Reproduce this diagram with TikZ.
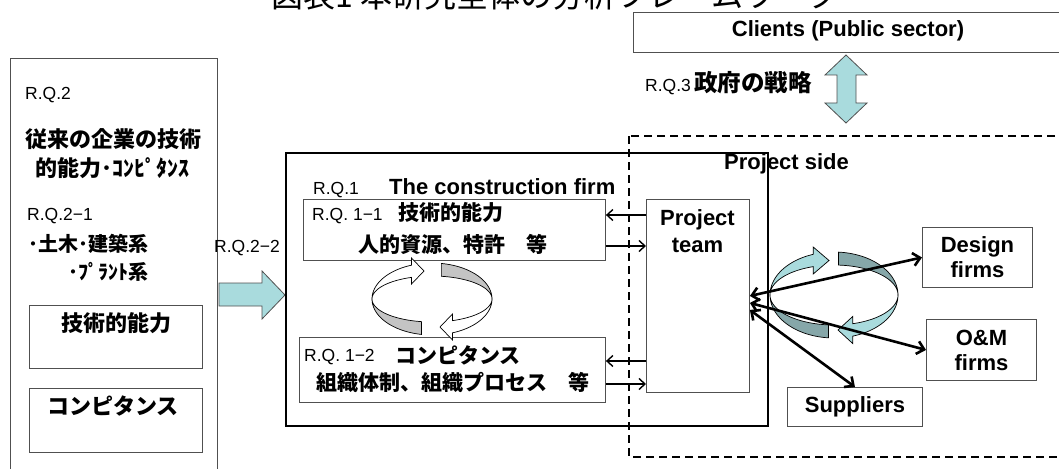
\documentclass[tikz,border=0pt]{standalone}
\usepackage{fontspec}
\setmainfont{Liberation Sans}
\newfontfamily\jp{Noto Sans CJK JP}
\usetikzlibrary{arrows.meta}
\definecolor{cyanf}{HTML}{A9DBDD}
\definecolor{tealf}{HTML}{86A7A9}
\definecolor{grayf}{HTML}{C4C4C4}
\definecolor{boxline}{HTML}{505050}
\newcommand\fsz[1]{\fontsize{#1}{#1}\selectfont}
\tikzset{
  box/.style={draw=boxline, line width=0.9pt, fill=white, inner sep=0pt, anchor=north west},
  lbl/.style={inner sep=0pt, anchor=base west, font=\fsz{17.5}},
  jpb/.style={inner sep=0pt, font=\jp\bfseries\fsz{#1}},
  enb/.style={inner sep=0pt, anchor=base, font=\bfseries\fsz{22}},
  band/.style={draw=black, line width=0.7pt},
  sarrow/.style={line width=1.4pt, -{Straight Barb[length=6pt,width=11pt]}},
  barrow/.style={line width=2.6pt, {Straight Barb[length=7pt,width=13pt]}-{Straight Barb[length=7pt,width=13pt]}},
  blockarrow/.style={fill=cyanf, draw=boxline, line width=0.8pt},
}
\begin{document}
\begin{tikzpicture}[x=1pt,y=-1pt]
\useasboundingbox (0,0) rectangle (1059,468);
\clip (0,0) rectangle (1059,468);

% title (cut at top)
\node[inner sep=0pt, anchor=base west, font=\jp\fsz{32}] (title) at (271,8) {図表1 本研究全体の分析フレームワーク};

% left box
\node[box, minimum width=207pt, minimum height=430pt] (left) at (10,58) {};
\node[lbl] (rq2) at (25,100) {R.Q.2};
\node[jpb=22] (trad1) at (113.5,139) {従来の企業の技術};
\node[jpb=22] (trad2) at (112.5,168.5) {的能力･ｺﾝﾋﾟﾀﾝｽ};
\node[lbl] (rq21) at (27,220) {R.Q.2−1};
\node[jpb=20, anchor=east] (civ) at (149,243.5) {･土木･建築系};
\node[jpb=20, anchor=east] (plant) at (149,271.5) {･ﾌﾟﾗﾝﾄ系};
\node[box, minimum width=173pt, minimum height=63pt] (lbox1) at (29,305) {};
\node[jpb=22] (lt1) at (116,323) {技術的能力};
\node[box, minimum width=173pt, minimum height=64pt] (lbox2) at (29,388) {};
\node[jpb=22] (lt2) at (113,406.5) {コンピタンス};

% R.Q.2-2 arrow
\node[lbl] (rq22) at (214,252) {R.Q.2−2};
\draw[blockarrow] (219,283) -- (262,283) -- (262,271) -- (285,295) -- (262,319) -- (262,306) -- (219,306) -- cycle;

% construction firm
\node[draw=black, line width=2.4pt, inner sep=0pt, anchor=north west, minimum width=482pt, minimum height=273pt] (firm) at (285,152) {};
\node[lbl] (rq1) at (313,194) {R.Q.1};
\node[enb, anchor=base west] (firmt) at (389,194) {The construction firm};

\node[box, minimum width=302pt, minimum height=61pt] (box1) at (303,199) {};
\node[lbl] (rq11) at (312,220) {R.Q. 1−1};
\node[jpb=21, anchor=west] (b1a) at (398,213) {技術的能力};
\node[jpb=21] (b1b) at (453,244.5) {人的資源、特許　等};

\node[box, minimum width=306pt, minimum height=65pt] (box2) at (299,337) {};
\node[lbl] (rq12) at (304,361) {R.Q. 1−2};
\node[jpb=21, anchor=west] (b2a) at (395,355.5) {コンピタンス};
\node[jpb=21] (b2b) at (452.5,382) {組織体制、組織プロセス　等};

% left cycle (grey backs first)
\draw[band, fill=grayf] plot[domain=81:0, samples=30] ({432+60*cos(\x)},{299-36*sin(\x)}) -- plot[domain=0:81, samples=30] ({432+60*cos(\x)},{299-23*sin(\x)}) -- cycle;
\draw[band, fill=grayf] plot[domain=180:260, samples=30] ({432+60*cos(\x)},{299-36*sin(\x)}) -- plot[domain=260:180, samples=30] ({432+60*cos(\x)},{299-23*sin(\x)}) -- cycle;
\draw[band, fill=white] plot[domain=180:110, samples=30] ({432+60*cos(\x)},{299-36*sin(\x)}) -- (411.5,258) -- (424,271) -- (411.5,284) -- plot[domain=110:180, samples=30] ({432+60*cos(\x)},{299-23*sin(\x)}) -- cycle;
\draw[band, fill=white] plot[domain=360:290, samples=30] ({432+60*cos(\x)},{299-36*sin(\x)}) -- (452.5,340) -- (440,327) -- (452.5,314) -- plot[domain=290:360, samples=30] ({432+60*cos(\x)},{299-23*sin(\x)}) -- cycle;

% project team
\node[box, minimum width=103pt, minimum height=193pt] (team) at (646,199) {};
\node[enb] (tm1) at (697.5,225) {Project};
\node[enb] (tm2) at (697.5,252) {team};

% small arrows
\draw[sarrow] (team.west |- 0,215) -- (box1.east |- 0,215);
\draw[sarrow] (box1.east |- 0,246) -- (team.west |- 0,246);
\draw[sarrow] (team.west |- 0,361) -- (box2.east |- 0,361);
\draw[sarrow] (box2.east |- 0,384) -- (team.west |- 0,384);

% project side dashed
\draw[line width=2pt, dash pattern=on 8pt off 5pt] (629,136) rectangle (1080,457);
\node[enb, anchor=base west] (pside) at (724,169) {Project side};

% clients
\node[box, minimum width=430pt, minimum height=40pt] (clients) at (633,12) {};
\node[enb] (clt) at (848,37) {Clients (Public sector)};
\draw[blockarrow] (846,55) -- (867,75) -- (856,75) -- (856,103) -- (867,103) -- (846,123) -- (825,103) -- (837,103) -- (837,75) -- (825,75) -- cycle;
\node[lbl] (rq3) at (645,92) {R.Q.3};
\node[jpb=23.5, anchor=west] (gov) at (694,83) {政府の戦略};

% partner boxes
\node[box, minimum width=110pt, minimum height=60pt, align=center, font=\bfseries\fontsize{22}{25}\selectfont] (design) at (922,227) {Design\\firms};
\node[box, minimum width=110pt, minimum height=61pt, align=center, font=\bfseries\fontsize{22}{25}\selectfont] (om) at (926,319) {O\&M\\firms};
\node[box, minimum width=135pt, minimum height=39pt, font=\bfseries\fsz{22}] (supp) at (787,387) {Suppliers};

% right cycle
\draw[band, fill=tealf] plot[domain=86:0, samples=30] ({834+64*cos(\x)},{295-43*sin(\x)}) -- plot[domain=0:86, samples=30] ({834+64*cos(\x)},{295-30*sin(\x)}) -- cycle;
\draw[band, fill=tealf] plot[domain=180:265, samples=30] ({834+64*cos(\x)},{295-43*sin(\x)}) -- plot[domain=265:180, samples=30] ({834+64*cos(\x)},{295-30*sin(\x)}) -- cycle;
\draw[band, fill=cyanf] plot[domain=180:109, samples=30] ({834+64*cos(\x)},{295-43*sin(\x)}) -- (813.2,247) -- (829,260.5) -- (813.2,274) -- plot[domain=109:180, samples=30] ({834+64*cos(\x)},{295-30*sin(\x)}) -- cycle;
\draw[band, fill=cyanf] plot[domain=360:287, samples=30] ({834+64*cos(\x)},{295-43*sin(\x)}) -- (852.7,343.5) -- (838,330) -- (852.7,316.5) -- plot[domain=287:360, samples=30] ({834+64*cos(\x)},{295-30*sin(\x)}) -- cycle;

% black double arrows
\draw[barrow] (team.east) -- (design.west);
\draw[barrow] ([yshift=-7pt]team.east) -- (om.west);
\draw[barrow] ([yshift=-14pt]team.east) -- (supp.north);
\end{tikzpicture}
\end{document}
